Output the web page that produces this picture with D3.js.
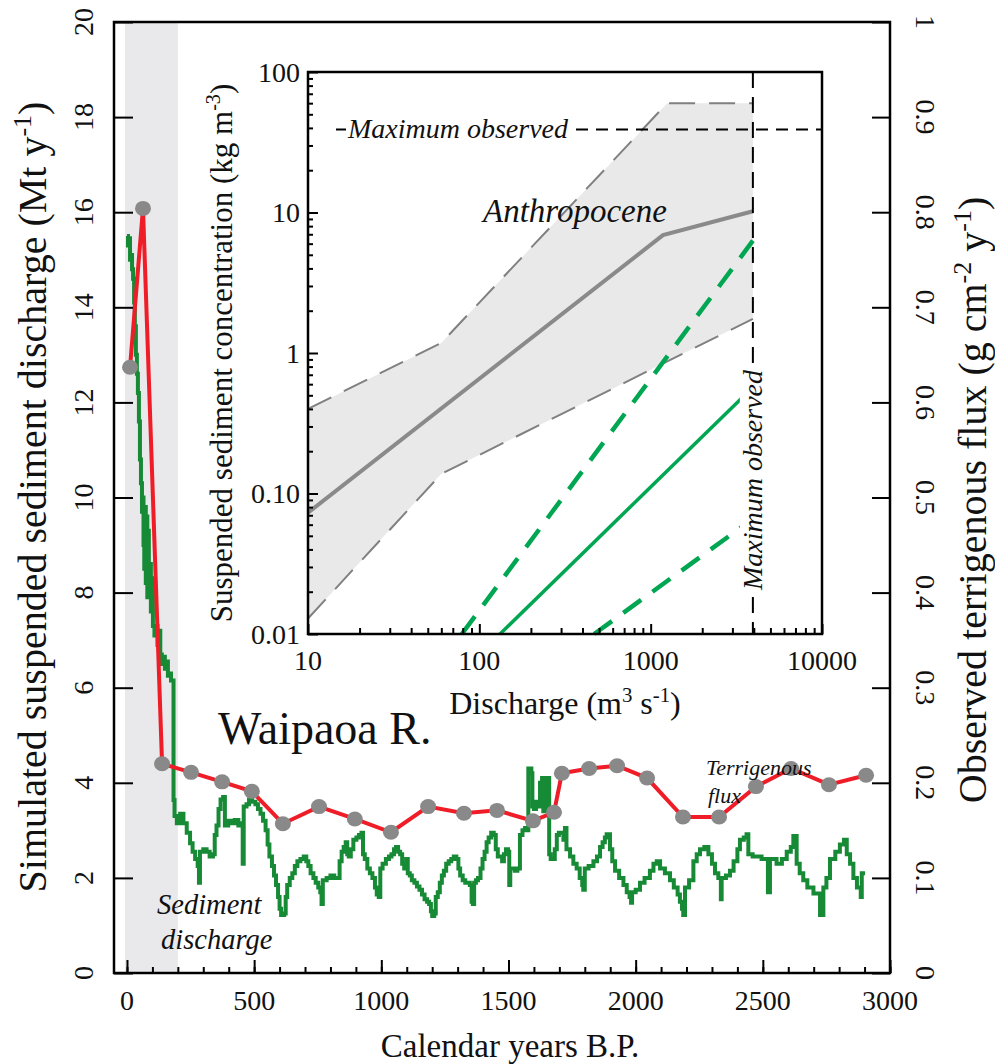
<!DOCTYPE html>
<html>
<head>
<meta charset="utf-8">
<script src="https://cdn.jsdelivr.net/npm/d3@7"></script>
<style>
  body { margin: 0; background: #fff; }
  text { font-family: "Liberation Serif", "Times New Roman", serif; fill: #111; }
</style>
</head>
<body>
<div id="chart"></div>
<script>
// ---- main panel data ----
var dischargeYears = [0,4,8,12,16,20,24,28,31,35,39,43,47,51,55,59,62,65,68,71,74,77,80,83,86,90,94,98,102,108,114,120,126,131,137,143,149,155,161,167,173,
  183,187,196,209,222,235,248,258,268,278,283,287,300,313,325,338,345,352,360,368,378,385,398,411,424,438,450,455,459,470,480,492,505,515,525,535,545,553,560,570,578,586,594,600,606,618,624,630,640,650,660,670,682,695,705,713,722,733,742,752,760,765,770,785,800,815,828,836,844,852,860,866,872,880,890,902,912,922,928,935,945,955,965,975,982,990,996,
  1005,1018,1030,1040,1050,1058,1066,1074,1082,1090,1098,1104,1112,1120,1130,1140,1150,1160,1170,1180,1188,1195,1200,1208,1214,1222,1230,1238,1246,1255,1265,1275,1285,1295,1303,1310,1320,1330,1348,1355,1360,1365,1372,1380,1390,1398,1406,1414,1422,1432,1442,1450,1458,1466,1475,1482,1490,1498,1503,1507,1515,1525,1535,1545,1555,1565,1572,1578,1590,1594,1600,1608,1616,1624,1632,1637,1645,1652,1660,1666,1675,1682,1690,1698,1716,1722,1728,1742,1755,1768,1780,1790,1794,1800,1815,1834,1848,1860,1870,1879,1886,1899,1908,1919,1935,1952,1965,1976,1982,1986,
  2000,2017,2035,2056,2070,2083,2096,2115,2135,2150,2165,2174,2182,2187,2194,2210,2227,2240,2253,2270,2286,2300,2312,2325,2335,2338,2355,2371,2385,2400,2410,2425,2436,2443,2460,2476,2495,2515,2520,2528,2554,2575,2594,2610,2620,2633,2645,2659,2675,2699,2720,2725,2738,2750,2764,2785,2803,2819,2830,2843,2856,2870,2885,2889,2902];
var dischargeValues = [15.5,15.3,15.45,15.0,15.1,14.8,14.6,14.1,13.6,13.0,12.6,12.2,11.6,10.8,10.3,9.7,10.0,9.0,8.5,9.8,8.2,9.6,7.9,9.3,8.0,8.6,7.6,8.3,7.3,7.1,7.3,6.9,7.2,6.7,6.5,6.65,6.4,6.55,6.25,6.3,6.15,
  3.64,3.3,3.15,3.35,3.15,2.95,2.73,2.55,2.4,2.25,1.9,2.55,2.6,2.55,2.45,2.5,2.9,3.1,3.45,3.65,3.7,3.1,3.2,3.15,3.22,3.1,3.15,2.3,3.5,3.55,3.65,3.6,3.55,3.45,3.35,3.2,3.0,2.7,2.45,2.25,2.05,1.85,1.6,1.35,1.22,1.25,1.6,1.85,2.0,2.1,2.25,2.35,2.4,2.45,2.35,2.25,2.1,2.0,1.9,1.8,1.7,1.45,1.95,2.0,2.05,2.0,2.0,2.35,2.55,2.65,2.75,2.5,2.45,2.6,2.8,2.85,2.9,2.95,2.5,2.4,2.2,2.1,2.0,1.8,1.65,1.6,2.2,
  2.3,2.4,2.45,2.5,2.6,2.65,2.55,2.5,2.3,2.2,2.4,2.1,2.05,1.95,1.9,1.82,1.75,1.65,1.55,1.5,1.45,1.3,1.2,1.25,1.6,1.7,1.9,2.05,2.15,2.3,2.35,2.4,2.45,2.4,2.2,2.05,1.95,1.9,1.85,1.5,1.45,1.9,1.95,2.0,2.2,2.4,2.55,2.75,2.85,2.95,2.9,2.6,2.45,2.45,2.35,2.5,2.6,2.55,1.85,2.2,2.2,2.15,2.2,2.9,3.0,3.05,3.0,4.3,4.2,3.5,3.45,3.6,3.5,4.0,4.1,3.4,4.1,4.1,2.5,2.4,2.4,2.6,2.9,2.95,2.8,3.05,2.6,2.45,2.3,2.2,2.0,1.85,1.75,2.2,2.25,2.35,2.45,2.65,2.75,2.85,2.92,2.6,2.35,2.15,2.0,1.85,1.7,1.6,1.48,1.7,
  1.75,1.9,2.0,2.15,2.3,2.35,2.2,2.1,1.95,1.8,1.65,1.5,1.35,1.22,1.8,1.95,2.35,2.5,2.6,2.65,2.5,2.3,2.1,2.0,1.55,2.0,2.05,2.15,2.35,2.6,2.8,2.85,2.92,2.5,2.45,2.45,2.4,2.4,1.7,2.4,2.3,2.4,2.55,2.65,2.88,2.3,2.1,1.95,1.8,1.67,1.67,1.22,1.8,2.0,2.4,2.55,2.7,2.8,2.5,2.3,2.0,1.8,1.6,2.1,2.1];

var fluxYears = [12,63,138,252,374,491,613,755,896,1038,1184,1325,1455,1596,1679,1710,1817,1927,2045,2186,2328,2473,2611,2760,2906];
var fluxValues = [0.637,0.804,0.220,0.211,0.201,0.191,0.157,0.175,0.162,0.148,0.175,0.168,0.171,0.160,0.169,0.210,0.215,0.218,0.205,0.164,0.164,0.196,0.215,0.198,0.208];

var yearTicks = [0,500,1000,1500,2000,2500,3000];
var yearMinorTicks = d3.range(0, 3001, 100);
var dischargeTicks = [0,2,4,6,8,10,12,14,16,18,20];
var fluxTicks = [0,0.1,0.2,0.3,0.4,0.5,0.6,0.7,0.8,0.9,1];
var fluxTickLabels = ["0","0.1","0.2","0.3","0.4","0.5","0.6","0.7","0.8","0.9","1"];
var anthropoceneYears = [-8, 200];

// ---- inset data (log-log) ----
var insetQTicks = [10,100,1000,10000];
var insetQTickLabels = ["10","100","1000","10000"];
var insetCTicks = [0.01,0.1,1,10,100];
var insetCTickLabels = ["0.01","0.10","1","10","100"];
var anthroUpperQ = [10,60,1250,3950], anthroUpperC = [0.4,1.18,60,60];
var anthroLowerQ = [10,60,3950], anthroLowerC = [0.0129,0.138,1.75];
var anthroMeanQ = [10,1180,3950], anthroMeanC = [0.073,6.9,10.2];
var preMeanQ = [132,3950], preMeanC = [0.01,0.57];
var preHighQ = [79,3950], preHighC = [0.01,6.3];
var preLowQ = [468,3950], preLowC = [0.01,0.066];
var maxObsQ = 3950, maxObsC = 39;

var zip = function(a, b) { return a.map(function(v, i) { return [v, b[i]]; }); };

var svg = d3.select("#chart").append("svg")
  .attr("width", 995).attr("height", 1064);

// main scales
var x = d3.scaleLinear().domain([-51, 3000]).range([114, 890]);
var yL = d3.scaleLinear().domain([0, 20]).range([973, 22]);
var yR = d3.scaleLinear().domain([0, 1]).range([973, 22]);

// anthropocene shade
svg.append("rect")
  .attr("x", x(anthropoceneYears[0])).attr("y", 22)
  .attr("width", x(anthropoceneYears[1]) - x(anthropoceneYears[0]))
  .attr("height", 951)
  .attr("fill", "#e9e8ea");

// sediment discharge (stepped)
var dischargeLine = d3.line()
  .x(d => x(d[0])).y(d => yL(d[1]))
  .curve(d3.curveStepAfter);
svg.append("path")
  .datum(zip(dischargeYears, dischargeValues))
  .attr("d", dischargeLine)
  .attr("fill", "none").attr("stroke", "#178a36")
  .attr("stroke-width", 4);

// terrigenous flux
var fluxLine = d3.line().x(d => x(d[0])).y(d => yR(d[1]));
svg.append("path")
  .datum(zip(fluxYears, fluxValues))
  .attr("d", fluxLine)
  .attr("fill", "none").attr("stroke", "#ee1d27").attr("stroke-width", 4);
svg.selectAll(".dot")
  .data(zip(fluxYears, fluxValues))
  .enter().append("ellipse")
  .attr("cx", d => x(d[0])).attr("cy", d => yR(d[1]))
  .attr("rx", 8).attr("ry", 7.5)
  .attr("fill", "#898989");

// axes
var bottomMinor = d3.axisTop(x).tickValues(yearMinorTicks).tickSize(6).tickSizeOuter(0).tickFormat("");
var bottomMajor = d3.axisTop(x).tickValues(yearTicks).tickSize(13).tickSizeOuter(0).tickFormat("");
[bottomMinor, bottomMajor].forEach(function(ax) {
  var g = svg.append("g").attr("transform", "translate(0,973)").call(ax);
  g.select(".domain").remove();
  g.selectAll("line").attr("stroke", "#000").attr("stroke-width", 2);
});
var leftAxis = svg.append("g").attr("transform", "translate(114,0)")
  .call(d3.axisRight(yL).tickValues(dischargeTicks).tickSize(19).tickSizeOuter(0).tickFormat(""));
var rightAxis = svg.append("g").attr("transform", "translate(890,0)")
  .call(d3.axisLeft(yR).tickValues(fluxTicks).tickSize(18).tickSizeOuter(0).tickFormat(""));
[leftAxis, rightAxis].forEach(function(g) {
  g.select(".domain").remove();
  g.selectAll("line").attr("stroke", "#000").attr("stroke-width", 2);
});
svg.append("rect")
  .attr("x", 114).attr("y", 22).attr("width", 776).attr("height", 951)
  .attr("fill", "none").attr("stroke", "#000").attr("stroke-width", 2.5);

// tick labels
svg.selectAll(".xlab").data(yearTicks).enter().append("text")
  .attr("x", d => x(d)).attr("y", 1010)
  .attr("text-anchor", "middle").attr("font-size", 28).text(d => d);
svg.selectAll(".ylab").data(dischargeTicks).enter().append("text")
  .attr("transform", d => "translate(93," + yL(d) + ") rotate(-90)")
  .attr("text-anchor", "middle").attr("font-size", 28).text(d => d);
svg.selectAll(".rlab").data(fluxTicks).enter().append("text")
  .attr("transform", d => "translate(916," + yR(d) + ") rotate(90)")
  .attr("text-anchor", "middle").attr("font-size", 28)
  .text((d, i) => fluxTickLabels[i]);

// text with superscripts, fs = base font size
function richText(sel, fs, parts) {
  var shift = 0;
  parts.forEach(function(p) {
    var t = sel.append("tspan");
    if (typeof p === "string") {
      if (shift) t.attr("dy", shift);
      shift = 0;
      t.text(p);
    } else {
      t.attr("font-size", fs * 0.65).attr("dy", -fs * 0.38).text(p.sup);
      shift = fs * 0.38;
    }
  });
  return sel;
}

// axis titles
svg.append("text")
  .attr("x", 510).attr("y", 1057).attr("text-anchor", "middle")
  .attr("font-size", 33).text("Calendar years B.P.");
richText(svg.append("text")
  .attr("transform", "translate(46,497) rotate(-90)")
  .attr("text-anchor", "middle").attr("font-size", 40), 40,
  ["Simulated suspended sediment discharge (Mt y", {sup: "-1"}, ")"]);
richText(svg.append("text")
  .attr("transform", "translate(986,500) rotate(-90)")
  .attr("text-anchor", "middle").attr("font-size", 40), 40,
  ["Observed terrigenous flux (g cm", {sup: "-2"}, " y", {sup: "-1"}, ")"]);

// annotations
svg.append("text").attr("x", 218).attr("y", 744).attr("font-size", 46).text("Waipaoa R.");
svg.append("text").attr("x", 157).attr("y", 914).attr("font-size", 28.5)
  .attr("font-style", "italic").text("Sediment");
svg.append("text").attr("x", 161).attr("y", 949).attr("font-size", 28.5)
  .attr("font-style", "italic").text("discharge");
svg.append("text").attr("x", 706).attr("y", 775).attr("font-size", 22)
  .attr("font-style", "italic").text("Terrigenous");
svg.append("text").attr("x", 708).attr("y", 803).attr("font-size", 22)
  .attr("font-style", "italic").text("flux");

// ---- inset ----
var qx = d3.scaleLog().domain([10, 10000]).range([308, 822]);
var cy = d3.scaleLog().domain([0.01, 100]).range([634, 72]);
var inset = svg.append("g");
inset.append("rect").attr("x", 308).attr("y", 72).attr("width", 514).attr("height", 562).attr("fill", "#fff");

var band = zip(anthroUpperQ, anthroUpperC).concat(zip(anthroLowerQ, anthroLowerC).reverse());
inset.append("path")
  .attr("d", "M" + band.map(d => qx(d[0]) + "," + cy(d[1])).join("L") + "Z")
  .attr("fill", "#e9e9ea");

var logLine = d3.line().x(d => qx(d[0])).y(d => cy(d[1]));
function insetLine(q, c, color, width, dash) {
  inset.append("path").datum(zip(q, c)).attr("d", logLine)
    .attr("fill", "none").attr("stroke", color).attr("stroke-width", width)
    .attr("stroke-dasharray", dash);
}
insetLine(anthroUpperQ, anthroUpperC, "#808080", 2, "26,14");
insetLine(anthroLowerQ, anthroLowerC, "#808080", 2, "26,14");
insetLine(anthroMeanQ, anthroMeanC, "#8a8a8a", 4, null);
insetLine(preHighQ, preHighC, "#00a651", 4.5, "22,14");
insetLine(preLowQ, preLowC, "#00a651", 4.5, "22,14");
insetLine(preMeanQ, preMeanC, "#00a651", 3.5, null);

// maximum observed lines
inset.append("line")
  .attr("x1", 336).attr("x2", 822).attr("y1", cy(maxObsC)).attr("y2", cy(maxObsC))
  .attr("stroke", "#000").attr("stroke-width", 2).attr("stroke-dasharray", "12,8");
inset.append("line")
  .attr("x1", qx(maxObsQ)).attr("x2", qx(maxObsQ)).attr("y1", 72).attr("y2", 634)
  .attr("stroke", "#000").attr("stroke-width", 2).attr("stroke-dasharray", "16,9");
inset.append("rect").attr("x", 346).attr("y", cy(maxObsC) - 14).attr("width", 227).attr("height", 26).attr("fill", "#fff");
inset.append("text").attr("x", 348).attr("y", cy(maxObsC) + 9).attr("font-size", 28)
  .attr("font-style", "italic").text("Maximum observed");
inset.append("rect").attr("x", qx(maxObsQ) - 13).attr("y", 366).attr("width", 26).attr("height", 228).attr("fill", "#fff");
inset.append("text")
  .attr("transform", "translate(" + (qx(maxObsQ) + 9) + ",480) rotate(-90)")
  .attr("text-anchor", "middle").attr("font-size", 28)
  .attr("font-style", "italic").text("Maximum observed");
inset.append("text").attr("x", 483).attr("y", 222).attr("font-size", 33)
  .attr("font-style", "italic").text("Anthropocene");

// inset axes
function minorOf(ticks) {
  var out = [];
  ticks.slice(0, -1).forEach(function(t) { for (var k = 2; k < 10; k++) out.push(t * k); });
  return out;
}
var insetAxes = [
  [d3.axisRight(cy).tickValues(insetCTicks).tickSize(10), "translate(308,0)"],
  [d3.axisRight(cy).tickValues(minorOf(insetCTicks)).tickSize(5), "translate(308,0)"],
  [d3.axisTop(qx).tickValues(insetQTicks).tickSize(10), "translate(0,634)"],
  [d3.axisTop(qx).tickValues(minorOf(insetQTicks)).tickSize(6), "translate(0,634)"]
];
insetAxes.forEach(function(a) {
  var g = inset.append("g").attr("transform", a[1]).call(a[0].tickSizeOuter(0).tickFormat(""));
  g.select(".domain").remove();
  g.selectAll("line").attr("stroke", "#000").attr("stroke-width", 2);
});
inset.append("rect").attr("x", 308).attr("y", 72).attr("width", 514).attr("height", 562)
  .attr("fill", "none").attr("stroke", "#000").attr("stroke-width", 2.5);

inset.selectAll(".cl").data(insetCTicks).enter().append("text")
  .attr("x", 300).attr("y", d => cy(d)).attr("dy", "0.35em")
  .attr("text-anchor", "end").attr("font-size", 28)
  .text((d, i) => insetCTickLabels[i]);
inset.selectAll(".ql").data(insetQTicks).enter().append("text")
  .attr("x", d => qx(d)).attr("y", 670)
  .attr("text-anchor", "middle").attr("font-size", 28)
  .text((d, i) => insetQTickLabels[i]);

richText(inset.append("text")
  .attr("x", 565).attr("y", 714).attr("text-anchor", "middle").attr("font-size", 32), 32,
  ["Discharge (m", {sup: "3"}, " s", {sup: "-1"}, ")"]);
richText(inset.append("text")
  .attr("transform", "translate(232,353) rotate(-90)")
  .attr("text-anchor", "middle").attr("font-size", 31), 31,
  ["Suspended sediment concentration (kg m", {sup: "-3"}, ")"]);
</script>
</body>
</html>
